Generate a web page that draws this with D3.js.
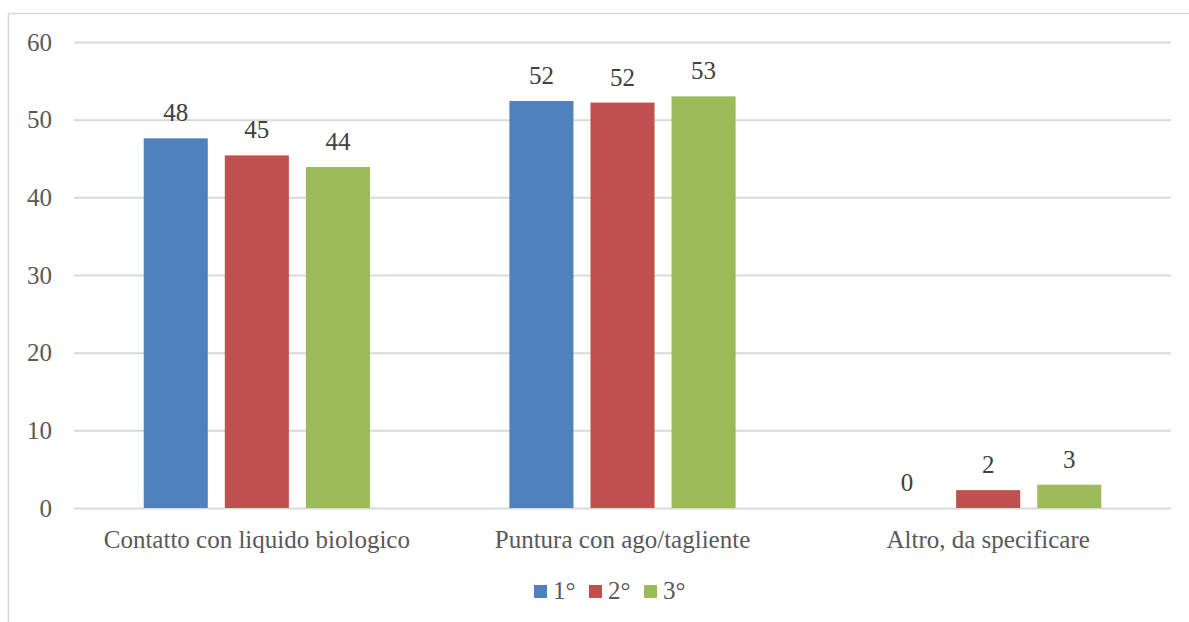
<!DOCTYPE html>
<html>
<head>
<meta charset="utf-8">
<script src="https://cdn.jsdelivr.net/npm/d3@7"></script>
<style>
  html, body { margin: 0; padding: 0; background: #fff; }
  svg { display: block; }
</style>
</head>
<body>
<script>
// Categories, series and values
const categories = ["Contatto con liquido biologico", "Puntura con ago/tagliente", "Altro, da specificare"];
const seriesNames = ["1°", "2°", "3°"];
const values1 = [47.6, 52.4, 0];
const values2 = [45.4, 52.2, 2.3];
const values3 = [43.9, 53.0, 3.0];
const yTicks = [0, 10, 20, 30, 40, 50, 60];
const colors = ["#4f81bd", "#c0504d", "#9bbb59"];

const seriesValues = [values1, values2, values3];

const W = 1189, H = 622;
const margin = { left: 74, right: 18, top: 42, bottom: 114 };
const font = "'Liberation Serif', 'DejaVu Serif', serif";
const fontSize = "25px";

const svg = d3.select("body").append("svg")
  .attr("width", W).attr("height", H);

// Outer chart frame (extends past the right and bottom edges)
svg.append("rect")
  .attr("x", 8.5).attr("y", 13.5)
  .attr("width", W + 20).attr("height", H + 20)
  .attr("fill", "none").attr("stroke", "#d9d9d9").attr("stroke-width", 1.5);

const x0 = d3.scaleBand()
  .domain(categories)
  .range([margin.left, W - margin.right]);

const x1 = d3.scaleBand()
  .domain(seriesNames)
  .range([0, x0.bandwidth()])
  .paddingInner(0.21)
  .paddingOuter(0.86);

const y = d3.scaleLinear()
  .domain([0, 60])
  .range([H - margin.bottom, margin.top]);

// Horizontal gridlines and value axis labels
const yAxis = d3.axisLeft(y)
  .tickValues(yTicks)
  .tickSize(-(W - margin.right - margin.left))
  .tickPadding(22)
  .tickFormat(d3.format("d"));

const gy = svg.append("g")
  .attr("transform", `translate(${margin.left},0)`)
  .call(yAxis);
gy.select(".domain").remove();
gy.selectAll(".tick line").attr("stroke", "#d9d9d9").attr("stroke-width", 2);
gy.selectAll(".tick text")
  .attr("fill", "#595959")
  .style("font-family", font)
  .style("font-size", fontSize);

// Category axis labels
const xAxis = d3.axisBottom(x0).tickSize(0).tickPadding(22);
const gx = svg.append("g")
  .attr("transform", `translate(0,${H - margin.bottom})`)
  .call(xAxis);
gx.select(".domain").remove();
gx.selectAll(".tick text")
  .attr("fill", "#595959")
  .style("font-family", font)
  .style("font-size", fontSize);

// Bars
const groups = svg.append("g").selectAll("g")
  .data(categories)
  .join("g")
  .attr("transform", d => `translate(${x0(d)},0)`);

const fmt = d3.format(".0f");
const rows = (c, i) => seriesNames.map((s, k) => ({ s, k, v: seriesValues[k][i] }));

groups.selectAll("rect")
  .data(rows)
  .join("rect")
  .attr("x", d => x1(d.s))
  .attr("width", x1.bandwidth())
  .attr("y", d => y(d.v))
  .attr("height", d => y(0) - y(d.v))
  .attr("fill", d => colors[d.k]);

// Value labels above the bars
groups.selectAll("text.val")
  .data(rows)
  .join("text")
  .attr("class", "val")
  .attr("x", d => x1(d.s) + x1.bandwidth() / 2)
  .attr("y", d => y(d.v) - 17)
  .attr("text-anchor", "middle")
  .attr("fill", "#404040")
  .style("font-family", font)
  .style("font-size", fontSize)
  .text(d => fmt(d.v));

// Legend
const legend = svg.append("g").attr("transform", "translate(534,585)");
const legendX = [0, 55, 110];
seriesNames.forEach((s, k) => {
  const g = legend.append("g").attr("transform", `translate(${legendX[k]},0)`);
  g.append("rect").attr("width", 13).attr("height", 13).attr("fill", colors[k]);
  g.append("text")
    .attr("x", 19).attr("y", 14)
    .attr("fill", "#595959")
    .style("font-family", font)
    .style("font-size", fontSize)
    .text(s);
});
</script>
</body>
</html>
